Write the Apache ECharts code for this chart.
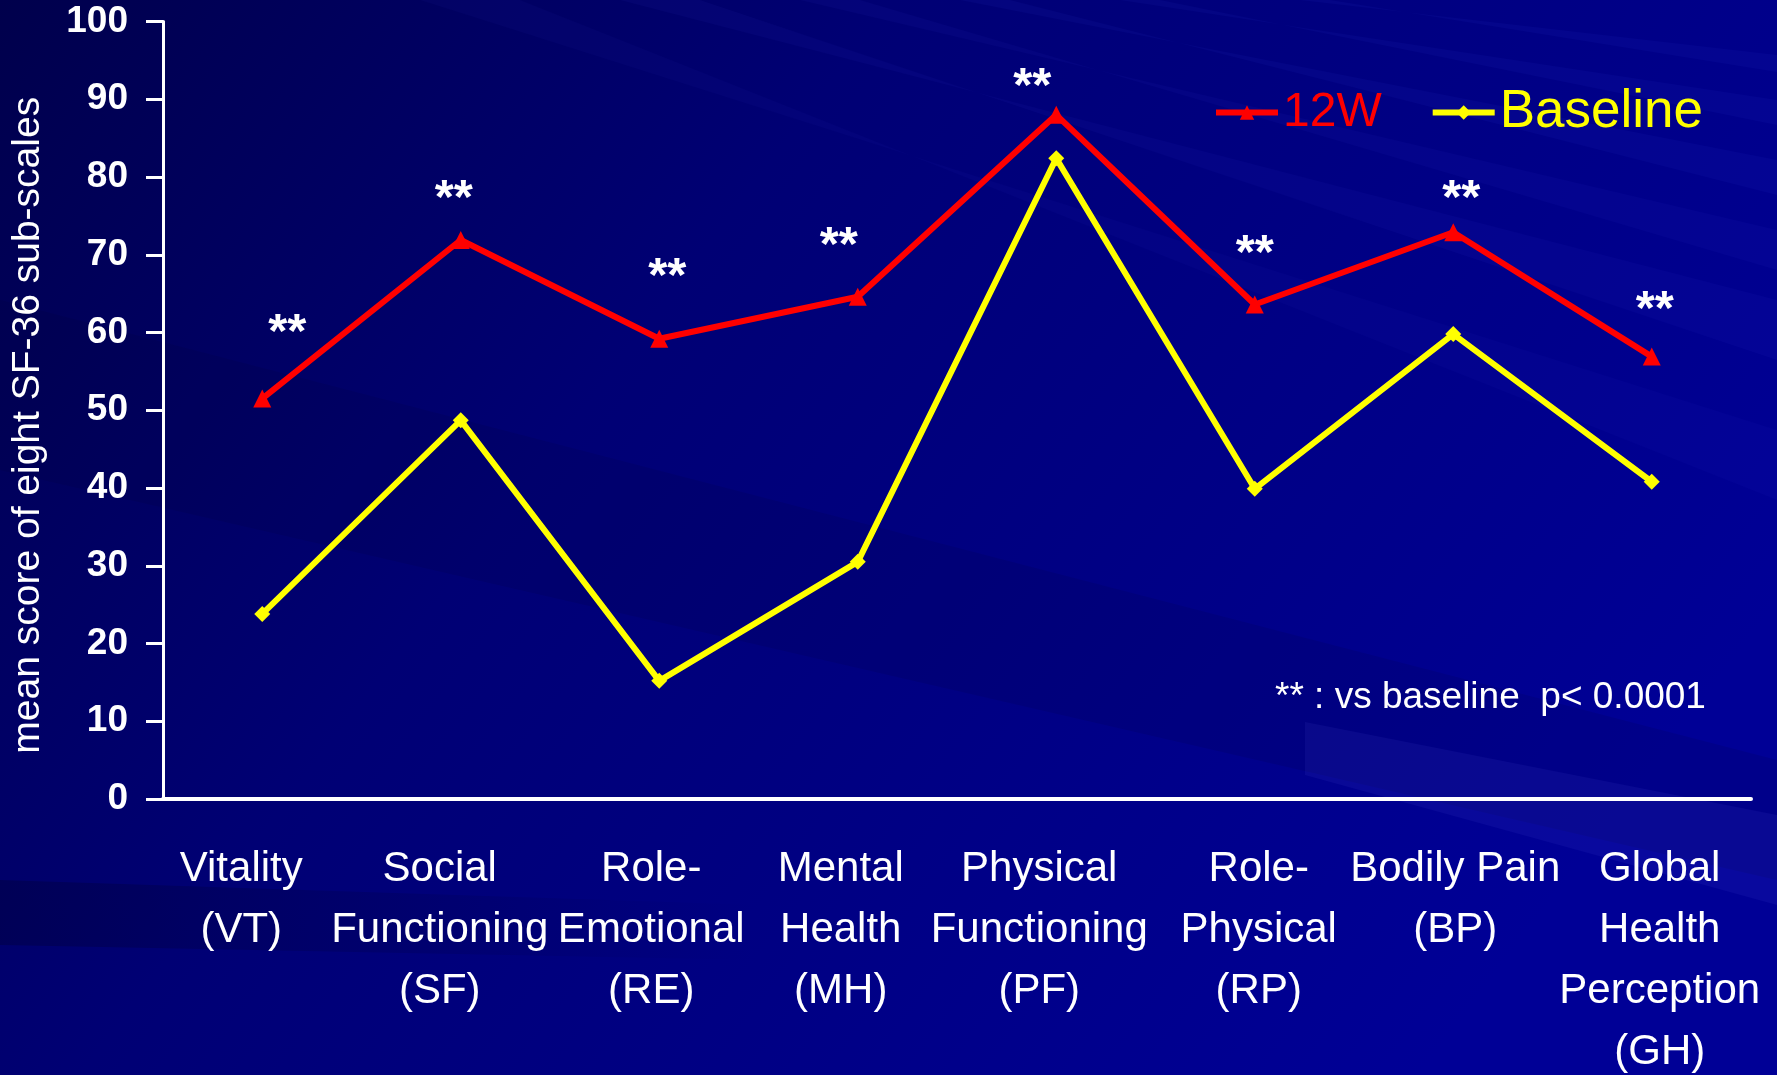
<!DOCTYPE html>
<html>
<head>
<meta charset="utf-8">
<title>SF-36 sub-scales</title>
<script src="https://cdn.jsdelivr.net/npm/echarts@6/dist/echarts.min.js"></script>
<style>
  html, body { margin: 0; padding: 0; background: #000070; }
  #chart { width: 1777px; height: 1075px; }
</style>
</head>
<body>
<div id="chart"></div>
<script>
// SF-36 sub-scale categories
const categories = [
  'Vitality\n(VT)',
  'Social\nFunctioning\n(SF)',
  'Role-\nEmotional\n(RE)',
  'Mental\nHealth\n(MH)',
  'Physical\nFunctioning\n(PF)',
  'Role-\nPhysical\n(RP)',
  'Bodily Pain\n(BP)',
  'Global\nHealth\nPerception\n(GH)'
];

// mean scores after 12 weeks
const week12 = [51.5, 71.9, 59.2, 64.6, 88.0, 63.6, 72.9, 56.9];
// mean scores at baseline
const baseline = [23.8, 48.7, 15.2, 30.5, 82.4, 39.9, 59.8, 40.8];
// height at which each "**" significance mark sits
const sigMarkY = [61.2, 78.4, 68.4, 72.4, 92.8, 71.3, 78.4, 64.1];

const seriesNames = ['12W', 'Baseline'];
const axisTitle = 'mean score of eight SF-36 sub-scales';
const footnote = '** : vs baseline  p< 0.0001';

// small horizontal nudges (px) for the category labels and the ** marks
const labelShift = [-21, -21, -8, -17, -17, 4, 2, 8];
const markShift = [25, -7, 8, -19, -24, 0, 8, 3];

const FONT = '"Liberation Sans", Arial, sans-serif';

const xData = categories.map((c, i) => {
  const s = labelShift[i];
  return {
    value: c,
    textStyle: { padding: s >= 0 ? [0, 0, 0, 2 * s] : [0, -2 * s, 0, 0] }
  };
});

// faint light rays across the backdrop
function ray(x0, x1, yRight0, yRight1, alpha) {
  return {
    type: 'polygon', z: -10, silent: true,
    shape: { points: [[x0, 0], [x1, 0], [1777, yRight1], [1777, yRight0]] },
    style: { fill: 'rgba(70,80,255,' + alpha + ')' }
  };
}

const chart = echarts.init(document.getElementById('chart'), null, { renderer: 'canvas' });

chart.setOption({
  backgroundColor: {
    type: 'linear', x: 0, y: 0, x2: 0.8, y2: 1,
    colorStops: [
      { offset: 0, color: '#00004c' },
      { offset: 0.4, color: '#000074' },
      { offset: 1, color: '#000096' }
    ]
  },
  animation: false,
  textStyle: { fontFamily: FONT },
  graphic: [
    ray(620, 700, 300, 360, 0.05),
    ray(800, 860, 230, 270, 0.05),
    ray(960, 1010, 160, 195, 0.06),
    ray(1120, 1160, 100, 125, 0.06),
    ray(1300, 1330, 55, 72, 0.06),
    ray(420, 520, 430, 500, 0.04),
    { type: 'polygon', z: -10, silent: true,
      shape: { points: [[0, 880], [0, 945], [760, 960], [760, 905]] },
      style: {
        fill: {
          type: 'linear', x: 0, y: 0, x2: 1, y2: 0,
          colorStops: [
            { offset: 0, color: 'rgba(0,0,40,0.3)' },
            { offset: 1, color: 'rgba(0,0,40,0)' }
          ]
        }
      } },
    { type: 'polygon', z: -10, silent: true,
      shape: { points: [[0, 300], [0, 470], [1777, 880], [1777, 760]] },
      style: { fill: 'rgba(0,0,40,0.1)' } },
    { type: 'polygon', z: -10, silent: true,
      shape: { points: [[1305, 722], [1777, 815], [1777, 905], [1305, 775]] },
      style: { fill: 'rgba(120,120,255,0.08)' } },
    { type: 'text', z: 10, x: 1275, y: 698,
      style: { text: footnote, fill: '#ffffff', font: '37px ' + FONT, textVerticalAlign: 'middle' } }
  ],
  legend: {
    left: 1208,
    top: 81,
    itemWidth: 62,
    itemHeight: 18,
    itemGap: 48,
    lineStyle: { width: 6 },
    data: [
      { name: seriesNames[0], textStyle: { color: '#ff0000', fontSize: 48, fontFamily: FONT } },
      { name: seriesNames[1], textStyle: { color: '#ffff00', fontSize: 53, fontFamily: FONT } }
    ]
  },
  grid: { left: 163, right: 26, top: 21.5, bottom: 276, containLabel: false, outerBoundsMode: 'none' },
  xAxis: {
    type: 'category',
    data: xData,
    boundaryGap: true,
    axisLine: { show: true, lineStyle: { color: '#ffffff', width: 4 } },
    axisTick: { show: false },
    splitLine: { show: false },
    axisLabel: {
      interval: 0,
      hideOverlap: false,
      color: '#ffffff',
      fontSize: 42,
      lineHeight: 61,
      margin: 40,
      fontFamily: FONT,
      textShadowColor: '#000000',
      textShadowOffsetX: 2,
      textShadowOffsetY: 2,
      textShadowBlur: 0
    }
  },
  yAxis: {
    type: 'value',
    min: 0,
    max: 100,
    interval: 10,
    name: axisTitle,
    nameLocation: 'middle',
    nameGap: 115,
    nameRotate: 90,
    nameTextStyle: { color: '#ffffff', fontSize: 39, fontFamily: FONT, padding: [0, 30, 0, 0] },
    axisLine: { show: true, lineStyle: { color: '#ffffff', width: 3 } },
    axisTick: { show: true, length: 17, lineStyle: { color: '#ffffff', width: 3 } },
    splitLine: { show: false },
    axisLabel: { color: '#ffffff', fontSize: 37, fontWeight: 'bold', margin: 35, fontFamily: FONT }
  },
  series: [
    {
      name: seriesNames[0],
      type: 'line',
      data: week12,
      symbol: 'triangle',
      symbolSize: 18,
      color: '#ff0000',
      itemStyle: { color: '#ff0000' },
      lineStyle: { color: '#ff0000', width: 6 },
      z: 3
    },
    {
      name: seriesNames[1],
      type: 'line',
      data: baseline,
      symbol: 'diamond',
      symbolSize: 16,
      color: '#ffff00',
      itemStyle: { color: '#ffff00' },
      lineStyle: { color: '#ffff00', width: 6 },
      z: 2
    },
    {
      name: 'significance',
      type: 'scatter',
      data: sigMarkY.map((v, i) => ({
        value: [i, v],
        label: { offset: [markShift[i], 10] }
      })),
      symbolSize: 1,
      itemStyle: { color: 'rgba(0,0,0,0)', opacity: 1 },
      silent: true,
      label: {
        show: true,
        position: 'inside',
        formatter: '**',
        color: '#ffffff',
        textBorderWidth: 0,
        textBorderColor: 'rgba(0,0,0,0)',
        fontSize: 49,
        fontWeight: 'bold',
        fontFamily: FONT
      },
      z: 4
    }
  ]
});
</script>
</body>
</html>
